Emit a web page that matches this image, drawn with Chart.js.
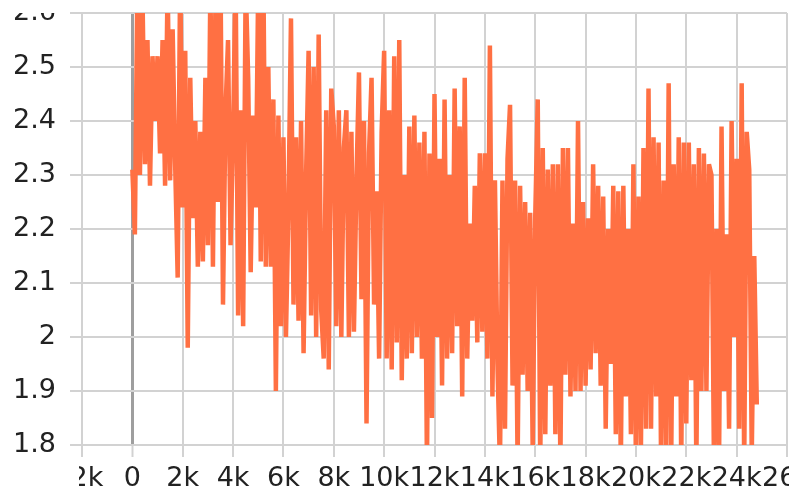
<!DOCTYPE html>
<html>
<head>
<meta charset="utf-8">
<script src="https://cdn.jsdelivr.net/npm/chart.js@4/dist/chart.umd.min.js"></script>
<style>
  html, body { margin: 0; padding: 0; background: #fff; }
  #wrap { width: 789px; height: 500px; }
</style>
</head>
<body>
<div id="wrap"><canvas id="chart" width="789" height="500"></canvas></div>
<script>
const STEP = 100;
const loss0to4k = [
  2.31, 2.19, 2.66, 2.30, 2.64, 2.32, 2.55, 2.28, 2.52, 2.40,
  2.52, 2.34, 2.55, 2.28, 2.66, 2.29, 2.57, 2.32, 2.11, 2.68,
  2.24, 2.53, 1.98, 2.48, 2.22, 2.40, 2.13, 2.38, 2.14, 2.48,
  2.17, 2.66, 2.13, 2.62, 2.25, 2.68, 2.06, 2.42, 2.55, 2.17
];
const loss4to8k = [
  2.37, 2.68, 2.04, 2.42, 2.02, 2.66, 2.48, 2.12, 2.41, 2.24,
  2.66, 2.14, 2.69, 2.13, 2.50, 2.13, 2.44, 1.90, 2.41, 2.02,
  2.37, 2.00, 2.24, 2.59, 2.06, 2.37, 2.03, 2.40, 1.97, 2.30,
  2.53, 2.04, 2.50, 2.00, 2.56, 2.05, 1.96, 2.42, 1.94, 2.46
];
const loss8to12k = [
  2.39, 2.02, 2.42, 2.00, 2.35, 2.42, 2.00, 2.38, 2.01, 2.29,
  2.49, 2.07, 2.40, 1.84, 2.34, 2.48, 2.06, 2.27, 1.96, 2.38,
  2.53, 1.96, 2.42, 1.94, 2.52, 1.99, 2.55, 1.92, 2.30, 1.96,
  2.39, 1.97, 2.41, 2.00, 2.36, 1.96, 2.38, 1.76, 2.34, 1.85
];
const loss12to16k = [
  2.45, 2.00, 2.33, 1.91, 2.44, 1.96, 2.30, 1.97, 2.46, 2.02,
  2.39, 1.89, 2.48, 1.96, 2.21, 2.03, 2.28, 1.99, 2.34, 2.01,
  2.34, 1.96, 2.54, 1.89, 2.29, 1.95, 1.76, 2.29, 1.83, 2.33,
  2.43, 1.91, 2.29, 1.76, 2.28, 1.93, 2.25, 1.90, 2.23, 1.79
];
const loss16to20k = [
  2.22, 2.44, 1.76, 2.35, 1.82, 2.31, 1.91, 2.32, 1.82, 2.32,
  1.76, 2.35, 1.93, 2.35, 1.89, 2.21, 1.90, 2.40, 1.90, 2.25,
  1.91, 2.22, 1.94, 2.32, 1.97, 2.28, 1.91, 2.26, 1.83, 2.20,
  1.95, 2.28, 1.82, 2.27, 1.76, 2.28, 1.89, 2.20, 1.82, 2.32
];
const loss20to25k = [
  1.76, 2.26, 1.80, 2.35, 1.83, 2.46, 1.83, 2.37, 1.89, 2.36,
  1.76, 2.29, 1.80, 2.47, 1.76, 2.32, 1.89, 2.37, 1.76, 2.36,
  1.84, 2.36, 1.92, 2.32, 1.76, 2.35, 1.90, 2.34, 1.90, 2.32,
  2.30, 1.76, 2.20, 1.76, 2.39, 1.90, 2.19, 1.83, 2.40, 2.00,
  2.33, 1.83, 2.47, 1.76, 2.38, 2.31, 1.78, 2.15, 1.875
];

const ORANGE = '#ff7043';
const GRID = '#d2d2d2';
const ZERO = '#9e9e9e';
const tickFont = { family: 'DejaVu Sans', size: 27, lineHeight: 1 };

const loss = [...loss0to4k, ...loss4to8k, ...loss8to12k, ...loss12to16k, ...loss16to20k, ...loss20to25k];
const points = loss.map((y, i) => ({ x: i * STEP, y }));

const isZero = (ctx) => ctx.tick && ctx.tick.value === 0;

// the original crops the top y label and the left x label
const edgeCut = {
  id: 'edgeCut',
  afterDraw(c) {
    const a = c.chartArea;
    c.ctx.clearRect(0, 0, a.left - 12, a.top);
    c.ctx.clearRect(0, a.bottom + 10, 79, 60);
  }
};

new Chart(document.getElementById('chart'), {
  type: 'line',
  data: {
    datasets: [{
      data: points,
      borderColor: ORANGE,
      borderWidth: 4.5,
      borderJoinStyle: 'bevel',
      pointRadius: 0,
      tension: 0,
      fill: false,
      clip: 0
    }]
  },
  options: {
    responsive: false,
    animation: false,
    devicePixelRatio: 1,
    layout: { padding: { top: 13, right: 2, bottom: 0, left: 0 } },
    plugins: { legend: { display: false }, tooltip: { enabled: false } },
    scales: {
      x: {
        type: 'linear', min: -2000, max: 26000,
        border: { display: false },
        grid: {
          color: (ctx) => isZero(ctx) ? ZERO : GRID,
          lineWidth: (ctx) => isZero(ctx) ? 3 : 2,
          tickColor: GRID, tickLength: 12, tickWidth: 2
        },
        ticks: {
          stepSize: 2000, autoSkip: false, maxRotation: 0, padding: 8,
          color: '#222', font: tickFont,
          callback: (v) => v === 0 ? '0' : `${v / 1000}k`
        },
        afterFit: (s) => { s.height = 55; s.paddingLeft = 0; s.paddingRight = 0; }
      },
      y: {
        min: 1.8, max: 2.6,
        border: { display: false },
        grid: { color: GRID, lineWidth: 2, tickColor: GRID, tickLength: 12, tickWidth: 2 },
        ticks: {
          stepSize: 0.1, padding: 14, color: '#222', font: tickFont,
          callback: (v) => String(Number(v.toFixed(1)))
        },
        afterFit: (s) => { s.width = 82; s.paddingTop = 0; s.paddingBottom = 0; }
      }
    }
  },
  plugins: [edgeCut]
});
</script>
</body>
</html>
